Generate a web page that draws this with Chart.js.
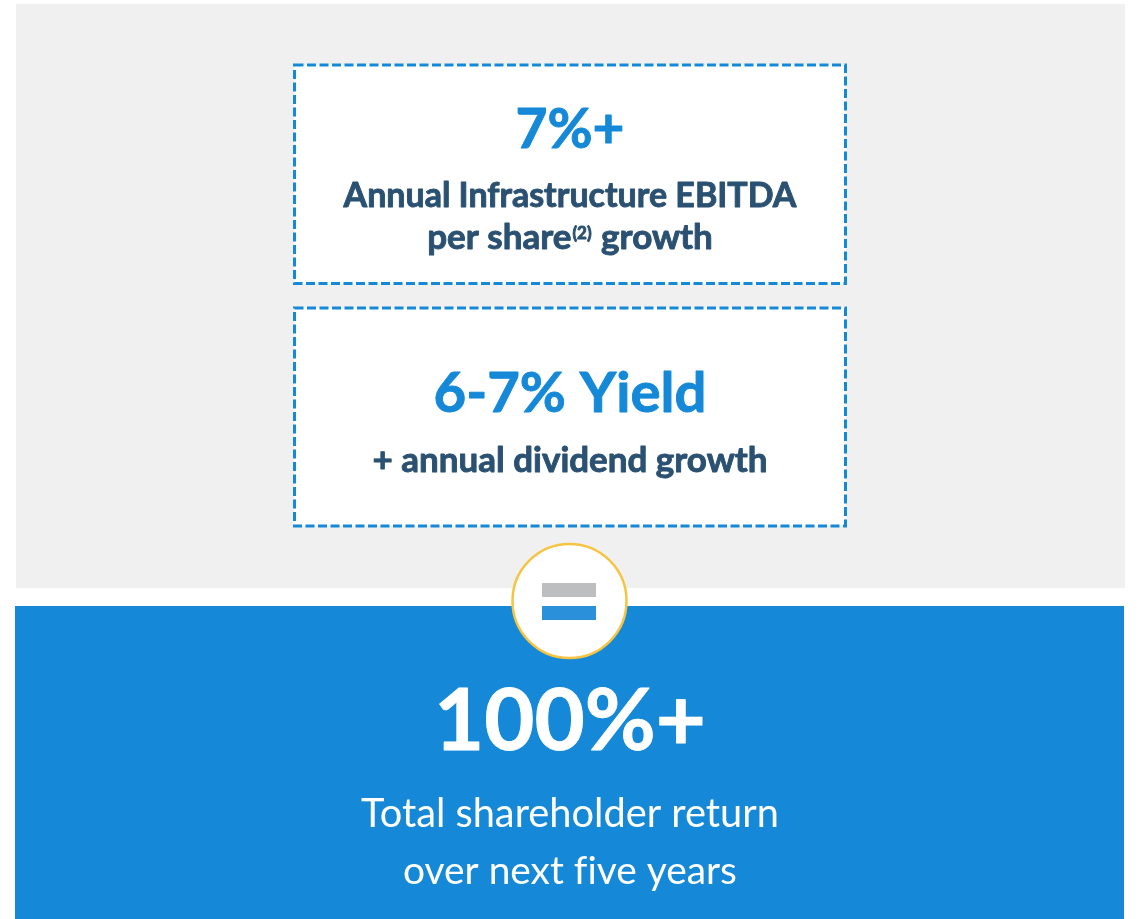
<!DOCTYPE html>
<html>
<head>
<meta charset="utf-8">
<script src="https://cdn.jsdelivr.net/npm/chart.js@4.4.1/dist/chart.umd.min.js"></script>
<style>
  html, body { margin: 0; padding: 0; background: #ffffff; }
  #wrap { width: 1138px; height: 919px; position: relative; }
</style>
</head>
<body>
<div id="wrap"><canvas id="infographic"></canvas></div>
<script>
// text content of the graphic
const headlines = ['7%+', '6-7% Yield', '100%+'];
const boxLines = [
  ['Annual Infrastructure EBITDA', ['per share', '(2)', ' growth']],
  ['+ annual dividend growth']
];
// zero-width non-joiner keeps "fi" from becoming a ligature
const totalLines = ['Total shareholder return', 'over next f\u200Cive years'];

// colours
const BLUE = '#1589d8';
const SLATE = '#2b5172';
const GRAY_BG = '#f0f0f0';
const FONT = 'Lato, "Open Sans", sans-serif';

// layout in page units (x 0..1138, y 0..919)
const CX = 570;
const boxes = [
  { x0: 294.5, y0: 65, x1: 845.5, y1: 283.5 },
  { x0: 294.5, y0: 308, x1: 845.5, y1: 526 }
];

function fitFont(ctx, text, weight, targetW) {
  ctx.font = weight + ' 100px ' + FONT;
  const w = ctx.measureText(text).width;
  return 100 * targetW / w;
}

function paint(ctx, text, x, y, weight, color) {
  ctx.fillStyle = color;
  ctx.fillText(text, x, y);
  if (weight === 'bold') {
    // Lato bold is a touch lighter than the original face
    ctx.lineWidth = 0.9;
    ctx.strokeStyle = color;
    ctx.lineJoin = 'round';
    ctx.strokeText(text, x, y);
  }
}

function drawText(ctx, sx, sy, text, cx, base, targetW, weight, color) {
  const size = fitFont(ctx, text, weight, sx(cx + targetW) - sx(cx));
  ctx.font = weight + ' ' + size + 'px ' + FONT;
  ctx.textAlign = 'center';
  ctx.textBaseline = 'alphabetic';
  paint(ctx, text, sx(cx), sy(base), weight, color);
  return size;
}

const drawPlugin = {
  id: 'infographic',
  beforeDatasetsDraw(chart) {
    const ctx = chart.ctx;
    const xs = chart.scales.x, ys = chart.scales.y;
    const sx = v => xs.getPixelForValue(v);
    const sy = v => ys.getPixelForValue(v);
    ctx.save();

    // top gray panel
    ctx.fillStyle = GRAY_BG;
    ctx.fillRect(sx(16), sy(4), sx(1125) - sx(16), sy(588) - sy(4));

    // bottom blue panel
    ctx.fillStyle = BLUE;
    ctx.fillRect(sx(15), sy(606), sx(1124) - sx(15), sy(919) - sy(606));

    // dashed boxes
    boxes.forEach(b => {
      ctx.fillStyle = '#ffffff';
      ctx.fillRect(sx(b.x0), sy(b.y0), sx(b.x1) - sx(b.x0), sy(b.y1) - sy(b.y0));
      ctx.setLineDash([9, 3.5]);
      ctx.lineWidth = 3;
      ctx.strokeStyle = BLUE;
      ctx.strokeRect(sx(b.x0), sy(b.y0), sx(b.x1) - sx(b.x0), sy(b.y1) - sy(b.y0));
    });
    ctx.setLineDash([]);

    // box 1
    drawText(ctx, sx, sy, headlines[0], CX, 148, 109, 'bold', BLUE);
    const s1 = drawText(ctx, sx, sy, boxLines[0][0], CX, 207, 453, 'bold', SLATE);
    // line with superscript
    const segs = boxLines[0][1];
    const mainSize = s1 * 1.03;
    const supSize = s1 * 0.5;
    ctx.font = 'bold ' + mainSize + 'px ' + FONT;
    const w0 = ctx.measureText(segs[0]).width;
    const w2 = ctx.measureText(segs[2]).width;
    ctx.font = 'bold ' + supSize + 'px ' + FONT;
    const w1 = ctx.measureText(segs[1]).width;
    let x = sx(CX) - (w0 + w1 + w2 + 2) / 2;
    ctx.textAlign = 'left';
    ctx.font = 'bold ' + mainSize + 'px ' + FONT;
    paint(ctx, segs[0], x, sy(249), 'bold', SLATE);
    x += w0 + 1;
    ctx.font = 'bold ' + supSize + 'px ' + FONT;
    paint(ctx, segs[1], x, sy(239), 'bold', SLATE);
    x += w1 + 1;
    ctx.font = 'bold ' + mainSize + 'px ' + FONT;
    paint(ctx, segs[2], x, sy(249), 'bold', SLATE);

    // box 2
    drawText(ctx, sx, sy, headlines[1], CX, 412, 273, 'bold', BLUE);
    drawText(ctx, sx, sy, boxLines[1][0], CX, 472, 395, 'bold', SLATE);

    // bottom panel text
    drawText(ctx, sx, sy, headlines[2], CX, 750, 272, 'bold', '#ffffff');
    drawText(ctx, sx, sy, totalLines[0], CX, 827, 418, 'normal', '#ffffff');
    drawText(ctx, sx, sy, totalLines[1], CX, 884, 334, 'normal', '#ffffff');

    // equals circle
    ctx.beginPath();
    ctx.arc(sx(569.5), sy(601), 57, 0, Math.PI * 2);
    ctx.fillStyle = '#ffffff';
    ctx.fill();
    ctx.lineWidth = 2.5;
    ctx.strokeStyle = '#f5c542';
    ctx.stroke();
    ctx.fillStyle = '#bdbec0';
    ctx.fillRect(sx(542), sy(583), sx(596) - sx(542), sy(597) - sy(583));
    ctx.fillStyle = '#2b90da';
    ctx.fillRect(sx(542), sy(606), sx(596) - sx(542), sy(620) - sy(606));

    ctx.restore();
  }
};

new Chart(document.getElementById('infographic'), {
  type: 'scatter',
  data: { datasets: [{ data: [], pointRadius: 0 }] },
  options: {
    responsive: true,
    maintainAspectRatio: false,
    animation: false,
    layout: { padding: 0 },
    plugins: { legend: { display: false }, tooltip: { enabled: false } },
    scales: {
      x: { type: 'linear', min: 0, max: 1138, display: false },
      y: { type: 'linear', min: 0, max: 919, reverse: true, display: false }
    }
  },
  plugins: [drawPlugin]
});
</script>
</body>
</html>
